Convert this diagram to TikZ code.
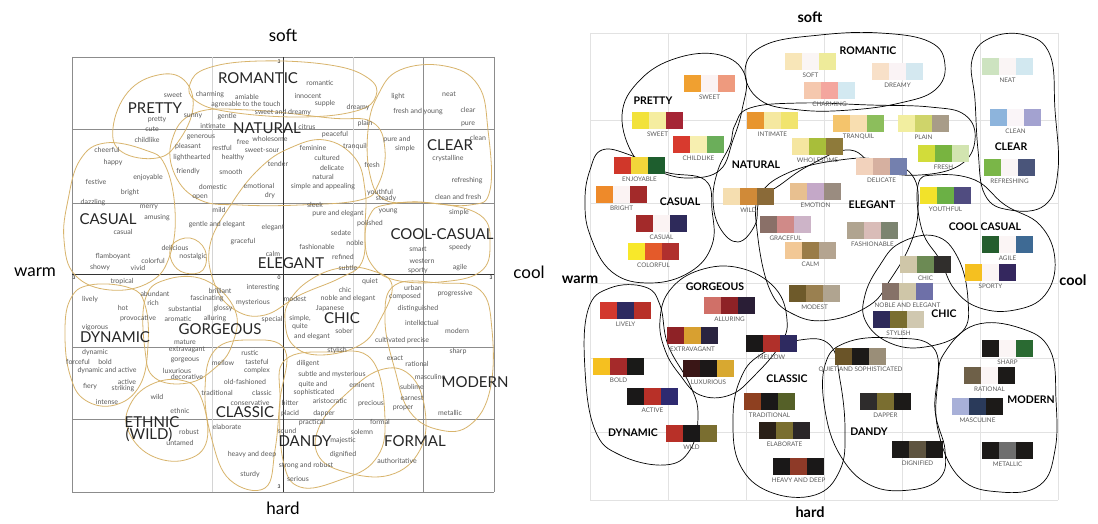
\documentclass[tikz,border=0pt]{standalone}
\usepackage{fontspec}
\setmainfont{Lato}
\definecolor{blobgold}{HTML}{D8B46C}
\definecolor{wordgrey}{HTML}{5A5A5A}
\definecolor{gridgrey}{HTML}{8C8C8C}
\definecolor{gridlight}{HTML}{D4D4D4}
\definecolor{gridpale}{HTML}{E2E2E2}
% three coloured squares with a caption below
\newcommand{\colorstrip}[7]{%
  \definecolor{stripa}{HTML}{#4}\definecolor{stripb}{HTML}{#5}\definecolor{stripc}{HTML}{#6}%
  \fill[stripa] (#2,#3) rectangle ++(17,17);%
  \fill[stripb] (#2+17,#3) rectangle ++(17,17);%
  \fill[stripc] (#2+34,#3) rectangle ++(17,17);%
  \node[striplabel] (#1) at (#2+25.5,#3+22) {#7};%
}
\tikzset{
  word/.style={text=wordgrey, font=\fontsize{7}{8}\selectfont, inner sep=0pt},
  mood/.style={text=black!85, font=\fontsize{15}{15}\selectfont, inner sep=0pt},
  axisword/.style={font=\fontsize{17}{17}\selectfont, inner sep=0pt},
  axisbold/.style={font=\bfseries\fontsize{14.5}{15}\selectfont, inner sep=0pt},
  tick/.style={font=\fontsize{5}{5}\selectfont, inner sep=0pt},
  blob/.style={draw=blobgold, line width=0.8pt},
  outline/.style={draw=black, line width=0.7pt},
  grp/.style={font=\bfseries\fontsize{10.5}{11}\selectfont, inner sep=0pt},
  striplabel/.style={text=wordgrey, font=\fontsize{6.3}{6.5}\selectfont, inner sep=0pt}
}
\begin{document}
\begin{tikzpicture}[x=1pt,y=-1pt]
\useasboundingbox (0,0) rectangle (1098,524);
\fill[white] (0,0) rectangle (1098,524);

% ---------------- left image scale ----------------
% Drawing grid
\foreach \gy in {57,129,203,347,419,492} \draw[gridgrey, line width=0.6pt] (72,\gy) -- (494,\gy);%
\foreach \gx in {212,353} \draw[gridlight, line width=0.6pt] (\gx,57) -- (\gx,492);%
\foreach \gx in {72,423,494} \draw[gridgrey, line width=0.6pt] (\gx,57) -- (\gx,492);%
\draw[black!80, line width=0.8pt] (283,57) -- (283,492);%
\draw[black!80, line width=0.8pt] (72,274) -- (494,274);%

% Drawing axis numbers
\node[tick] (t-top) at (279,62) {3};%
\node[tick] (t-mid) at (279,278) {0};%
\node[tick] (t-left) at (74,278) {3};%
\node[tick] (t-right) at (491,278) {3};%
\node[tick] (t-bot) at (279,487) {3};%

% Drawing axis words
\node[axisword] (soft-l) at (283,35) {soft};%
\node[axisword] (hard-l) at (283,508) {hard};%
\node[axisword] (warm-l) at (35,272) {warm};%
\node[axisword] (cool-l) at (529,272) {cool};%

% Drawing group outlines
\draw[blob] plot[smooth cycle, tension=0.7] coordinates {(190,84) (208,68) (260,61) (330,65) (368,78) (376,96) (356,111) (300,117) (230,112) (196,101)};% romantic
\draw[blob] plot[smooth cycle, tension=0.7] coordinates {(113,128) (128,92) (158,75) (184,80) (193,108) (178,142) (157,158) (122,152)};% pretty
\draw[blob] plot[smooth cycle, tension=0.7] coordinates {(195,113) (250,110) (330,118) (372,122) (385,150) (378,185) (360,200) (300,205) (240,205) (200,200) (175,175) (172,140)};% natural
\draw[blob] plot[smooth cycle, tension=0.7] coordinates {(378,95) (400,70) (445,66) (478,85) (488,130) (490,190) (470,205) (420,202) (385,200) (370,175) (368,130)};% clear
\draw[blob] plot[smooth cycle, tension=0.7] coordinates {(68,200) (80,160) (105,143) (145,150) (165,165) (175,210) (170,255) (150,282) (110,290) (75,275) (64,240)};% casual
\draw[blob] plot[smooth cycle, tension=0.7] coordinates {(172,245) (190,238) (205,250) (203,270) (185,273) (172,262)};% nostalgic
\draw[blob] plot[smooth cycle, tension=0.7] coordinates {(232,203) (260,168) (290,148) (325,140) (355,158) (365,190) (365,225) (362,262) (340,278) (300,295) (265,315) (235,310) (215,285) (210,245)};% elegant
\draw[blob] plot[smooth cycle, tension=0.7] coordinates {(370,215) (385,205) (430,203) (480,215) (490,245) (480,272) (440,282) (395,280) (372,265) (365,240)};% cool-casual
\draw[blob] plot[smooth cycle, tension=0.7] coordinates {(290,300) (310,280) (340,268) (370,270) (392,285) (380,320) (360,345) (320,355) (293,345) (285,320)};% chic
\draw[blob] plot[smooth cycle, tension=0.7] coordinates {(395,285) (440,283) (480,290) (492,330) (490,390) (470,425) (440,430) (410,412) (395,370) (385,320)};% modern
\draw[blob] plot[smooth cycle, tension=0.7] coordinates {(145,300) (165,280) (205,280) (235,310) (232,345) (215,368) (188,383) (155,378) (145,350)};% gorgeous
\draw[blob] plot[smooth cycle, tension=0.7] coordinates {(70,300) (90,285) (130,288) (145,305) (148,345) (140,385) (115,405) (85,400) (70,375) (65,335)};% dynamic
\draw[blob] plot[smooth cycle, tension=0.7] coordinates {(130,405) (150,385) (180,380) (200,395) (207,440) (185,460) (150,455) (128,430)};% ethnic
\draw[blob] plot[smooth cycle, tension=0.7] coordinates {(215,350) (250,340) (285,350) (280,400) (275,450) (265,488) (230,480) (212,440) (205,390)};% classic
\draw[blob] plot[smooth cycle, tension=0.7] coordinates {(285,360) (330,352) (372,360) (385,420) (375,460) (340,480) (300,487) (283,460) (280,400)};% dandy
\draw[blob] plot[smooth cycle, tension=0.7] coordinates {(320,425) (345,395) (380,370) (410,375) (425,410) (420,450) (390,475) (345,472) (318,455)};% formal

% Marking small words
\foreach \wx/\wy/\wt [count=\i] in {
  173/95/sweet, 210/95/charming, 247/97/amiable, 246/105/agreeable to the touch,
  283/113/sweet and dreamy, 320/83/romantic, 308/96/innocent, 325/104/supple,
  358/108/dreamy, 157/120/pretty, 152/129/cute, 147/140/childlike, 193/116/sunny,
  227/117/gentle, 213/126/intimate, 201/137/generous, 243/142/free, 270/139/wholesome,
  188/147/pleasant, 222/148/restful, 262/150/sweet-sour, 192/158/lighthearted,
  233/158/healthy, 278/164/tender, 107/150/cheerful, 113/163/happy, 96/182/festive,
  148/178/enjoyable, 130/193/bright, 188/172/friendly, 231/172/smooth, 213/187/domestic,
  259/186/emotional, 200/197/open, 270/196/dry, 93/203/dazzling, 365/124/plain,
  307/127/citrus, 335/135/peaceful, 313/148/feminine, 355/147/tranquil, 327/158/cultured,
  332/168/delicate, 372/165/fresh, 323/177/natural, 323/187/simple and appealing,
  380/193/youthful, 386/199/steady, 398/97/light, 418/112/fresh and young, 449/94/neat,
  468/110/clear, 468/124/pure, 478/138/clean, 397/140/pure and, 405/149/simple,
  448/159/crystalline, 467/181/refreshing, 458/197/clean and fresh}
  \node[word] (wa\i) at (\wx,\wy) {\wt};%
\foreach \wx/\wy/\wt [count=\i] in {
  149/207/merry, 157/218/amusing, 219/210/mild, 123/232/casual, 217/225/gentle and elegant,
  273/228/elegant, 243/242/graceful, 175/248/delicious, 193/257/nostalgic, 273/254/calm,
  113/257/flamboyant, 153/261/colorful, 100/268/showy, 138/268/vivid, 122/282/tropical,
  155/294/abundant, 220/291/brilliant, 263/288/interesting, 90/300/lively, 153/303/rich,
  207/299/fascinating, 253/303/mysterious, 123/308/hot, 185/309/substantial, 223/309/glossy,
  138/319/provocative, 178/319/aromatic, 215/319/alluring, 95/328/vigorous, 272/320/special,
  185/342/mature, 187/350/extravagant, 95/353/dynamic, 250/353/rustic,
  315/205/sleek, 338/214/pure and elegant, 388/211/young, 459/213/simple, 370/224/polished,
  341/233/sedate, 317/247/fashionable, 355/243/noble, 418/249/smart, 460/248/speedy,
  343/257/refined, 422/261/western, 348/268/subtle, 418/271/sporty, 460/268/agile,
  370/282/quiet, 345/290/chic, 413/288/urban, 455/294/progressive, 295/299/modest,
  348/299/noble and elegant, 405/297/composed, 330/309/Japanese, 418/309/distinguished,
  300/319/{simple,}, 300/327/quite, 312/337/and elegant, 344/331/sober, 422/323/intellectual,
  457/331/modern, 402/341/cultivated precise, 337/351/stylish, 458/352/sharp}
  \node[word] (wb\i) at (\wx,\wy) {\wt};%
\foreach \wx/\wy/\wt [count=\i] in {
  78/362/forceful, 105/362/bold, 185/360/gorgeous, 223/363/mellow, 257/362/tasteful,
  107/371/dynamic and active, 177/371/luxurious, 187/377/decorative, 257/371/complex,
  127/382/active, 90/387/fiery, 123/389/striking, 245/382/old-fashioned, 217/393/traditional,
  262/393/classic, 107/402/intense, 157/397/wild, 180/411/ethnic, 250/403/conservative,
  227/427/elaborate, 189/432/robust, 180/443/untamed, 252/455/heavy and deep, 250/475/sturdy,
  395/358/exact, 308/364/diligent, 417/364/rational, 332/375/subtle and mysterious,
  430/377/masculine, 313/385/quite and, 314/393/sophisticated, 362/385/eminent, 412/387/sublime,
  290/403/bitter, 330/401/aristocratic, 371/404/precious, 412/398/earnest, 290/414/placid,
  324/414/dapper, 403/408/proper, 450/413/metallic, 312/423/practical, 380/422/formal,
  362/432/solemn, 287/431/sound, 343/441/majestic, 343/455/dignified, 397/461/authoritative,
  306/466/strong and robust, 298/479/serious}
  \node[word] (wc\i) at (\wx,\wy) {\wt};%

% Marking group names
\node[mood] (romantic-l) at (258,78) {ROMANTIC};%
\node[mood] (pretty-l) at (155,108) {PRETTY};%
\node[mood] (natural-l) at (267,128) {NATURAL};%
\node[mood] (clear-l) at (450,145) {CLEAR};%
\node[mood] (casual-l) at (108,219) {CASUAL};%
\node[mood] (coolcasual-l) at (442,234) {COOL-CASUAL};%
\node[mood] (elegant-l) at (291,263) {ELEGANT};%
\node[mood] (dynamic-l) at (115,337) {DYNAMIC};%
\node[mood] (gorgeous-l) at (220,329) {GORGEOUS};%
\node[mood] (chic-l) at (342,318) {CHIC};%
\node[mood] (modern-l) at (475,382) {MODERN};%
\node[mood] (ethnic-l) at (152,422) {ETHNIC};%
\node[mood] (wild-l) at (149,435) {(WILD)};%
\node[mood] (classic-l) at (245,412) {CLASSIC};%
\node[mood] (dandy-l) at (305,441) {DANDY};%
\node[mood] (formal-l) at (415,441) {FORMAL};%

% ---------------- right colour scale ----------------
% Drawing grid
\foreach \gx in {590,668,746,824,902,980,1058} \draw[gridpale, line width=0.6pt] (\gx,33) -- (\gx,500);%
\foreach \gy in {33,120,203,283,358,432,500} \draw[gridpale, line width=0.6pt] (590,\gy) -- (1058,\gy);%

% Drawing axis words
\node[axisbold] (soft-r) at (810,17) {soft};%
\node[axisbold] (hard-r) at (810,512) {hard};%
\node[axisbold] (warm-r) at (580,280) {warm};%
\node[axisbold] (cool-r) at (1073,280) {cool};%

% Drawing group outlines
\draw[outline] plot[smooth cycle, tension=0.7] coordinates {(745,70) (765,45) (820,35) (880,33) (930,42) (945,65) (935,90) (900,103) (850,110) (800,110) (760,100)};% romantic
\draw[outline] plot[smooth cycle, tension=0.7] coordinates {(622,115) (640,80) (677,58) (720,55) (745,75) (742,110) (733,140) (720,170) (690,178) (660,172) (635,158)};% pretty
\draw[outline] plot[smooth cycle, tension=0.7] coordinates {(972,60) (990,38) (1025,35) (1050,55) (1055,110) (1058,170) (1045,205) (1010,210) (985,195) (978,150) (975,100)};% clear
\draw[outline] plot[smooth cycle, tension=0.7] coordinates {(735,125) (750,108) (800,103) (870,105) (930,107) (965,115) (975,140) (960,165) (920,175) (880,170) (850,150) (810,165) (780,185) (760,200) (755,225) (738,242) (720,228) (713,200) (718,170) (730,145)};% natural
\draw[outline] plot[smooth cycle, tension=0.7] coordinates {(590,170) (602,150) (630,155) (665,172) (705,180) (712,210) (712,245) (690,272) (650,283) (612,272) (590,235) (585,200)};% casual
\draw[outline] plot[smooth cycle, tension=0.7] coordinates {(757,230) (760,195) (790,172) (840,160) (880,160) (912,175) (918,210) (910,245) (890,280) (870,305) (830,320) (795,315) (770,290)};% elegant
\draw[outline] plot[smooth cycle, tension=0.7] coordinates {(918,185) (935,175) (975,180) (1005,205) (1040,225) (1055,260) (1045,295) (1015,310) (980,308) (955,290) (940,260) (922,230)};% cool casual
\draw[outline] plot[smooth cycle, tension=0.7] coordinates {(880,265) (900,243) (935,236) (958,258) (968,300) (962,332) (925,347) (890,343) (866,322) (865,295)};% chic
\draw[outline] plot[smooth cycle, tension=0.7] coordinates {(660,320) (670,290) (700,270) (740,268) (775,288) (787,320) (780,345) (755,375) (730,395) (700,395) (680,375) (665,350)};% gorgeous
\draw[outline] plot[smooth cycle, tension=0.7] coordinates {(588,310) (610,288) (645,287) (660,305) (668,345) (690,385) (698,415) (690,450) (665,465) (620,455) (595,430) (585,370)};% dynamic
\draw[outline] plot[smooth cycle, tension=0.7] coordinates {(740,380) (760,355) (800,340) (830,345) (840,380) (845,430) (840,470) (815,495) (770,492) (740,465) (733,420)};% classic
\draw[outline] plot[smooth cycle, tension=0.7] coordinates {(825,365) (845,343) (890,338) (935,350) (935,410) (945,450) (940,478) (910,490) (870,485) (840,455) (825,410)};% dandy
\draw[outline] plot[smooth cycle, tension=0.7] coordinates {(945,352) (975,325) (1020,328) (1050,350) (1056,400) (1055,450) (1040,485) (1000,492) (960,478) (938,430) (938,380)};% modern

% Drawing colour strips
\colorstrip{sweet}{684}{75}{F0A030}{FBF3F3}{EE9A7E}{SWEET}%
\colorstrip{sweetb}{632}{112}{F2E23A}{F5EDA0}{A52535}{SWEET}%
\colorstrip{childlike}{673}{136}{D83A2E}{F7EFB0}{6BAE5A}{CHILDLIKE}%
\colorstrip{enjoyable}{614}{157}{D0372A}{F2D63A}{1E5E2E}{ENJOYABLE}%
\colorstrip{bright}{596}{186}{EE8A2A}{FBF3F3}{A32A2A}{BRIGHT}%
\colorstrip{intimate}{747}{112}{E8952E}{F5E8A0}{F1E46E}{INTIMATE}%
\colorstrip{soft}{785}{53}{F8E6B8}{FAF5F5}{EEEB9A}{SOFT}%
\colorstrip{charming}{804}{82}{F5C8AE}{F4A69E}{D3E9F1}{CHARMING}%
\colorstrip{dreamy}{872}{63}{F8E0C8}{FAF3F5}{D4E8F0}{DREAMY}%
\colorstrip{neat}{982}{58}{CDE3C0}{FAF5F5}{D2E8F0}{NEAT}%
\colorstrip{clean}{990}{109}{8DB4DC}{FAF5F8}{A3A2D0}{CLEAN}%
\colorstrip{refreshing}{984}{159}{7AB648}{FAF5F5}{4A557A}{REFRESHING}%
\colorstrip{tranquil}{833}{115}{F4C46C}{F8DEB0}{8CBE5C}{TRANQUIL}%
\colorstrip{plain}{898}{115}{F2EEA0}{CFD46A}{A89C88}{PLAIN}%
\colorstrip{wholesome}{792}{138}{F5E6A0}{A8BE3A}{8E7A3A}{WHOLESOME}%
\colorstrip{fresh}{918}{145}{D2DC3A}{78B440}{D2E4B0}{FRESH}%
\colorstrip{delicate}{856}{158}{F2D2BC}{D6B0A0}{7480AE}{DELICATE}%
\colorstrip{youthful}{920}{187}{F2E22A}{6BB045}{504C80}{YOUTHFUL}%
\colorstrip{emotion}{790}{183}{E8C090}{C4A8C8}{9A8C80}{EMOTION}%
\colorstrip{wildn}{723}{188}{F5DEB0}{D08A38}{8A6A38}{WILD}%
\colorstrip{casual}{636}{215}{A32A2A}{FBF3F3}{2E2A5A}{CASUAL}%
\colorstrip{colorful}{628}{243}{F8E82A}{E45A2A}{B0302E}{COLORFUL}%
\colorstrip{graceful}{760}{216}{8A7068}{D08A88}{CDB4C8}{GRACEFUL}%
\colorstrip{calm}{785}{242}{F2C896}{9A7C48}{B4A490}{CALM}%
\colorstrip{fashionable}{847}{222}{B0A490}{D9BCB8}{7C8470}{FASHIONABLE}%
\colorstrip{modest}{789}{285}{6E5A2A}{9A8050}{B0A490}{MODEST}%
\colorstrip{chic}{900}{256}{CFC6A8}{6C8A54}{302E2C}{CHIC}%
\colorstrip{noble}{882}{283}{867268}{CFC6A8}{6E70A8}{NOBLE AND ELEGANT}%
\colorstrip{stylish}{873}{311}{2E2A5A}{7A6E30}{D0C8B0}{STYLISH}%
\colorstrip{agile}{982}{236}{255E2E}{FBF5F5}{3E6A94}{AGILE}%
\colorstrip{sporty}{965}{264}{F5C020}{FBF5F5}{34275E}{SPORTY}%
\colorstrip{alluring}{704}{297}{D07068}{8E2226}{2A1E36}{ALLURING}%
\colorstrip{lively}{600}{302}{D2382E}{2E2A60}{B83028}{LIVELY}%
\colorstrip{extravagant}{667}{327}{8E2226}{D8A030}{2A2440}{EXTRAVAGANT}%
\colorstrip{mellow}{746}{335}{1A1818}{B0302A}{2E2A60}{MELLOW}%
\colorstrip{bold}{593}{358}{F5C020}{A52A2A}{1A1A18}{BOLD}%
\colorstrip{luxurious}{683}{360}{3A1616}{1C1818}{D8A830}{LUXURIOUS}%
\colorstrip{active}{627}{388}{1A1818}{B83028}{2E2A70}{ACTIVE}%
\colorstrip{wildd}{666}{425}{B83028}{1A1818}{7A6E30}{WILD}%
\colorstrip{traditional}{744}{393}{8E4020}{1A1818}{556028}{TRADITIONAL}%
\colorstrip{elaborate}{759}{422}{2A2018}{7A6E30}{2A2628}{ELABORATE}%
\colorstrip{heavy}{773}{458}{1A1818}{8E3A28}{1A1818}{HEAVY AND DEEP}%
\colorstrip{quiet}{835}{348}{6A5428}{1C1A18}{9A8E78}{QUIET AND SOPHISTICATED}%
\colorstrip{dapper}{860}{393}{2E2C2C}{7A6E30}{1C1A18}{DAPPER}%
\colorstrip{dignified}{892}{441}{1C1A18}{5E5440}{1C1A18}{DIGNIFIED}%
\colorstrip{sharp}{982}{340}{1C1A18}{FBF5F5}{2A6A32}{SHARP}%
\colorstrip{rational}{964}{367}{6E6048}{FBF5F5}{1C1A18}{RATIONAL}%
\colorstrip{masculine}{952}{398}{A8B0D8}{2A3A5A}{1C1A18}{MASCULINE}%
\colorstrip{metallic}{982}{442}{1C1A18}{6E6E6E}{1C1A18}{METALLIC}%

% Marking group names
\node[grp] (pretty-r) at (653,101) {PRETTY};%
\node[grp] (romantic-r) at (868,51) {ROMANTIC};%
\node[grp] (natural-r) at (756,165) {NATURAL};%
\node[grp] (clear-r) at (1011,147) {CLEAR};%
\node[grp] (casual-r) at (680,202) {CASUAL};%
\node[grp] (elegant-r) at (872,205) {ELEGANT};%
\node[grp] (coolcasual-r) at (985,227) {COOL CASUAL};%
\node[grp] (gorgeous-r) at (715,287) {GORGEOUS};%
\node[grp] (chic-r) at (944,314) {CHIC};%
\node[grp] (dynamic-r) at (633,433) {DYNAMIC};%
\node[grp] (classic-r) at (787,379) {CLASSIC};%
\node[grp] (dandy-r) at (869,432) {DANDY};%
\node[grp] (modern-r) at (1031,400) {MODERN};%
\end{tikzpicture}
\end{document}
